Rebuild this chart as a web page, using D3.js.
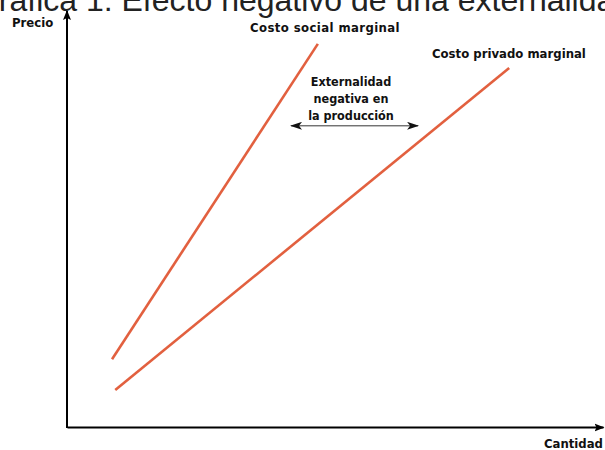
<!DOCTYPE html>
<html>
<head>
<meta charset="utf-8">
<script src="https://cdn.jsdelivr.net/npm/d3@7"></script>
<style>
  body { margin: 0; background: #fff; }
  svg { display: block; }
  .lbl { font-family: "DejaVu Sans Condensed", "DejaVu Sans", sans-serif; font-weight: bold; fill: #111; }
</style>
</head>
<body>
<div id="chart"></div>
<script>
// datos (cantidad 0-100, precio 0-100)
const curveNames = ["Costo social marginal", "Costo privado marginal"];
const socialQty = [8.4, 46.8];
const socialPrice = [16.3, 92.1];
const privateQty = [9.0, 82.5];
const privatePrice = [8.9, 86.3];
const gapQty = [41.8, 65.5];
const gapPrice = [72.4, 72.4];
const gapText = ["Externalidad", "negativa en", "la producción"];

const width = 605;
const height = 450;

const svg = d3.select("#chart")
    .append("svg")
    .attr("width", width)
    .attr("height", height);

const x = d3.scaleLinear().domain([0, 100]).range([67, 603]);
const y = d3.scaleLinear().domain([0, 100]).range([427, 11]);

// flechas
const defs = svg.append("defs");
defs.append("marker")
    .attr("id", "axisArrow")
    .attr("viewBox", "0 0 10 10")
    .attr("refX", 9).attr("refY", 5)
    .attr("markerWidth", 5).attr("markerHeight", 5)
    .attr("markerUnits", "strokeWidth")
    .attr("orient", "auto")
    .append("path")
    .attr("d", "M0,1 L10,5 L0,9 L2,5 Z")
    .attr("fill", "#000");

defs.append("marker")
    .attr("id", "gapArrow")
    .attr("viewBox", "0 0 12 8")
    .attr("refX", 11).attr("refY", 4)
    .attr("markerWidth", 12).attr("markerHeight", 8)
    .attr("markerUnits", "userSpaceOnUse")
    .attr("orient", "auto-start-reverse")
    .append("path")
    .attr("d", "M0,0 L12,4 L0,8 L3,4 Z")
    .attr("fill", "#111");

// titulo
svg.append("text")
    .attr("x", 303)
    .attr("y", 11)
    .attr("text-anchor", "middle")
    .style("font-family", "'Liberation Sans', Arial, sans-serif")
    .style("font-size", "32px")
    .style("fill", "#222")
    .text("Gráfica 1: Efecto negativo de una externalidad");

// ejes
const axisX = d3.axisBottom(x).tickValues([]).tickSizeOuter(0);
const axisY = d3.axisLeft(y).tickValues([]).tickSizeOuter(0);

const gx = svg.append("g")
    .attr("transform", `translate(0, ${y(0)})`)
    .call(axisX);
gx.select(".domain")
    .attr("stroke", "#000")
    .attr("stroke-width", 2)
    .attr("marker-end", "url(#axisArrow)");

const gy = svg.append("g")
    .attr("transform", `translate(${x(0)}, 0)`)
    .call(axisY);
gy.select(".domain")
    .attr("d", `M0,${y(0) + 1}V${y(100)}`)
    .attr("stroke", "#000")
    .attr("stroke-width", 2)
    .attr("marker-end", "url(#axisArrow)");

svg.append("text").attr("class", "lbl")
    .attr("x", 12).attr("y", 27)
    .style("font-size", "13px")
    .text("Precio");

svg.append("text").attr("class", "lbl")
    .attr("x", 603).attr("y", 448)
    .attr("text-anchor", "end")
    .style("font-size", "13px")
    .text("Cantidad");

// curvas
const line = d3.line()
    .x(d => x(d[0]))
    .y(d => y(d[1]));

const curves = [
    d3.zip(socialQty, socialPrice),
    d3.zip(privateQty, privatePrice)
];

svg.selectAll(".curve")
    .data(curves)
    .enter().append("path")
    .attr("class", "curve")
    .attr("d", line)
    .attr("fill", "none")
    .attr("stroke", "#e2603f")
    .attr("stroke-width", 2.6);

svg.append("text").attr("class", "lbl")
    .attr("x", 250).attr("y", 32)
    .style("font-size", "13px")
    .style("letter-spacing", "0.4px")
    .text(curveNames[0]);

svg.append("text").attr("class", "lbl")
    .attr("x", 432).attr("y", 58)
    .style("font-size", "13px")
    .text(curveNames[1]);

// externalidad
svg.append("path")
    .attr("d", line(d3.zip(gapQty, gapPrice)))
    .attr("fill", "none")
    .attr("stroke", "#333")
    .attr("stroke-width", 1)
    .attr("marker-start", "url(#gapArrow)")
    .attr("marker-end", "url(#gapArrow)");

svg.append("g")
    .selectAll("text")
    .data(gapText)
    .enter().append("text")
    .attr("class", "lbl")
    .attr("x", 351)
    .attr("y", (d, i) => 86 + i * 17)
    .attr("text-anchor", "middle")
    .style("font-size", "12.5px")
    .text(d => d);
</script>
</body>
</html>
